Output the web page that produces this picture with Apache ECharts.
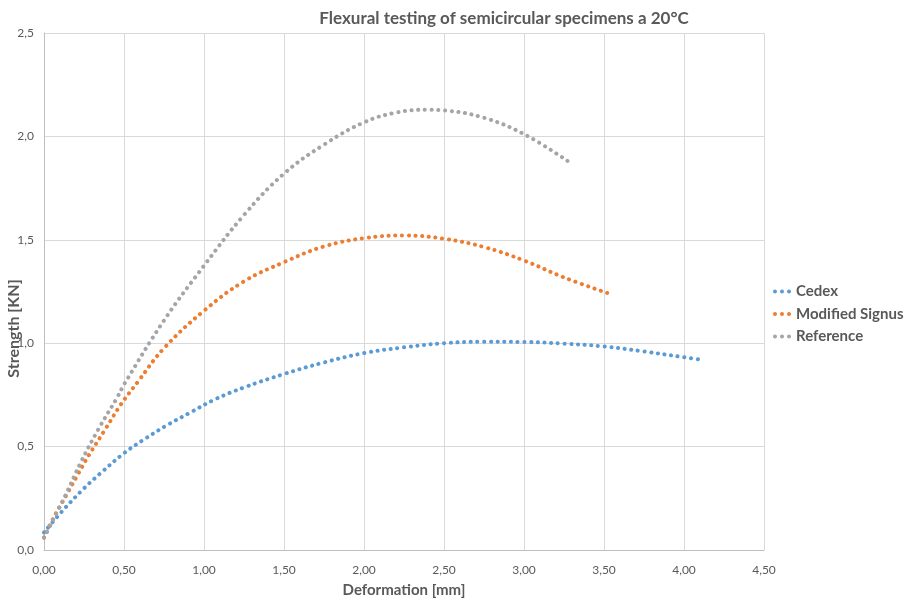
<!DOCTYPE html>
<html>
<head>
<meta charset="utf-8">
<title>Flexural testing</title>
<script src="https://cdn.jsdelivr.net/npm/echarts@6/dist/echarts.min.js"></script>
<style>
    html, body { margin: 0; padding: 0; background: #fff; }
    #chart { width: 912px; height: 603px; }
</style>
</head>
<body>
<div id="chart"></div>
<script>
// deformation [mm], strength [KN]
var cedex = [
    [0, 0.085], [0.12, 0.193], [0.25, 0.298], [0.35, 0.369], [0.5, 0.468],
    [0.63, 0.537], [0.77, 0.604], [0.92, 0.667], [1.07, 0.729], [1.25, 0.786],
    [1.5, 0.851], [1.75, 0.907], [2.0, 0.952], [2.25, 0.98], [2.5, 1.0],
    [2.75, 1.007], [3.0, 1.006], [3.25, 0.998], [3.5, 0.984], [3.75, 0.96],
    [4.0, 0.932], [4.09, 0.922]
];
var modifiedSignus = [
    [0, 0.06], [0.07, 0.171], [0.14, 0.266], [0.21, 0.363], [0.28, 0.458],
    [0.38, 0.58], [0.48, 0.703], [0.59, 0.817], [0.75, 0.976], [1.0, 1.157],
    [1.25, 1.299], [1.5, 1.392], [1.75, 1.468], [2.0, 1.508], [2.25, 1.521],
    [2.5, 1.505], [2.75, 1.465], [3.0, 1.40], [3.25, 1.318], [3.52, 1.243]
];
var reference = [
    [0, 0.06], [0.13, 0.258], [0.23, 0.424], [0.34, 0.584], [0.46, 0.741],
    [0.5, 0.80], [0.75, 1.11], [1.0, 1.375], [1.25, 1.62], [1.5, 1.82],
    [1.75, 1.96], [2.0, 2.068], [2.2, 2.115], [2.4, 2.129], [2.5, 2.126],
    [2.75, 2.09], [3.0, 2.011], [3.28, 1.877]
];
var seriesNames = ['Cedex', 'Modified Signus', 'Reference'];
var seriesColors = ['#5B9BD5', '#ED7D31', '#A5A5A5'];
var xTickLabels = ['0,00', '0,50', '1,00', '1,50', '2,00', '2,50', '3,00', '3,50', '4,00', '4,50'];
var yTickLabels = ['0,0', '0,5', '1,0', '1,5', '2,0', '2,5'];

var font = 'Lato, "Open Sans", sans-serif';
var textColor = '#595959';
// three little dots, like the Excel legend marker
var dotsIcon = 'path://M0,2a2,2 0 1,0 4,0a2,2 0 1,0 -4,0z M7,2a2,2 0 1,0 4,0a2,2 0 1,0 -4,0z M14,2a2,2 0 1,0 4,0a2,2 0 1,0 -4,0z';

var allData = [cedex, modifiedSignus, reference];

var option = {
    animation: false,
    backgroundColor: '#fff',
    title: {
        text: 'Flexural testing of semicircular specimens a 20°C',
        left: 499,
        textAlign: 'center',
        top: 5,
        textStyle: { fontFamily: font, fontSize: 17, fontWeight: 'bold', color: textColor }
    },
    legend: {
        orient: 'vertical',
        left: 768,
        top: 279,
        itemWidth: 18,
        itemHeight: 4,
        itemGap: 7.5,
        icon: dotsIcon,
        textStyle: { fontFamily: font, fontSize: 15, fontWeight: 'bold', color: textColor },
        data: seriesNames
    },
    grid: {
        left: 44,
        right: 148,
        top: 33,
        bottom: 53,
        containLabel: false,
        outerBoundsMode: 'none'
    },
    xAxis: {
        type: 'value',
        min: 0,
        max: 4.5,
        interval: 0.5,
        name: 'Deformation [mm]',
        nameLocation: 'middle',
        nameGap: 33,
        nameMoveOverlap: false,
        nameTextStyle: { fontFamily: font, fontSize: 15, fontWeight: 'bold', color: textColor },
        axisLine: { lineStyle: { color: '#BFBFBF' } },
        axisTick: { show: false },
        axisLabel: {
            fontFamily: font, fontSize: 12, color: textColor, margin: 14,
            formatter: function (v) { return xTickLabels[Math.round(v / 0.5)]; }
        },
        splitLine: { show: true, lineStyle: { color: '#D9D9D9' } }
    },
    yAxis: {
        type: 'value',
        min: 0,
        max: 2.5,
        interval: 0.5,
        name: 'Strength [KN]',
        nameLocation: 'middle',
        nameGap: 22,
        nameMoveOverlap: false,
        nameTextStyle: {
            fontFamily: font, fontSize: 16, fontWeight: 'bold', color: textColor,
            padding: [0, 74, 0, 0]
        },
        axisLine: { show: true, lineStyle: { color: '#BFBFBF' } },
        axisTick: { show: false },
        axisLabel: {
            fontFamily: font, fontSize: 12, color: textColor, margin: 10,
            formatter: function (v) { return yTickLabels[Math.round(v / 0.5)]; }
        },
        splitLine: { show: true, lineStyle: { color: '#D9D9D9' } }
    },
    series: function () {
        var list = [];
        for (var i = 0; i < seriesNames.length; i++) {
            list.push({
                name: seriesNames[i],
                type: 'line',
                data: allData[i],
                smooth: 0.4,
                showSymbol: false,
                color: seriesColors[i],
                lineStyle: {
                    color: seriesColors[i],
                    width: 4,
                    type: [0.1, 6.6],
                    cap: 'round'
                }
            });
        }
        return list;
    }()
};

var myChart = echarts.init(document.getElementById('chart'));
myChart.setOption(option);
</script>
</body>
</html>
